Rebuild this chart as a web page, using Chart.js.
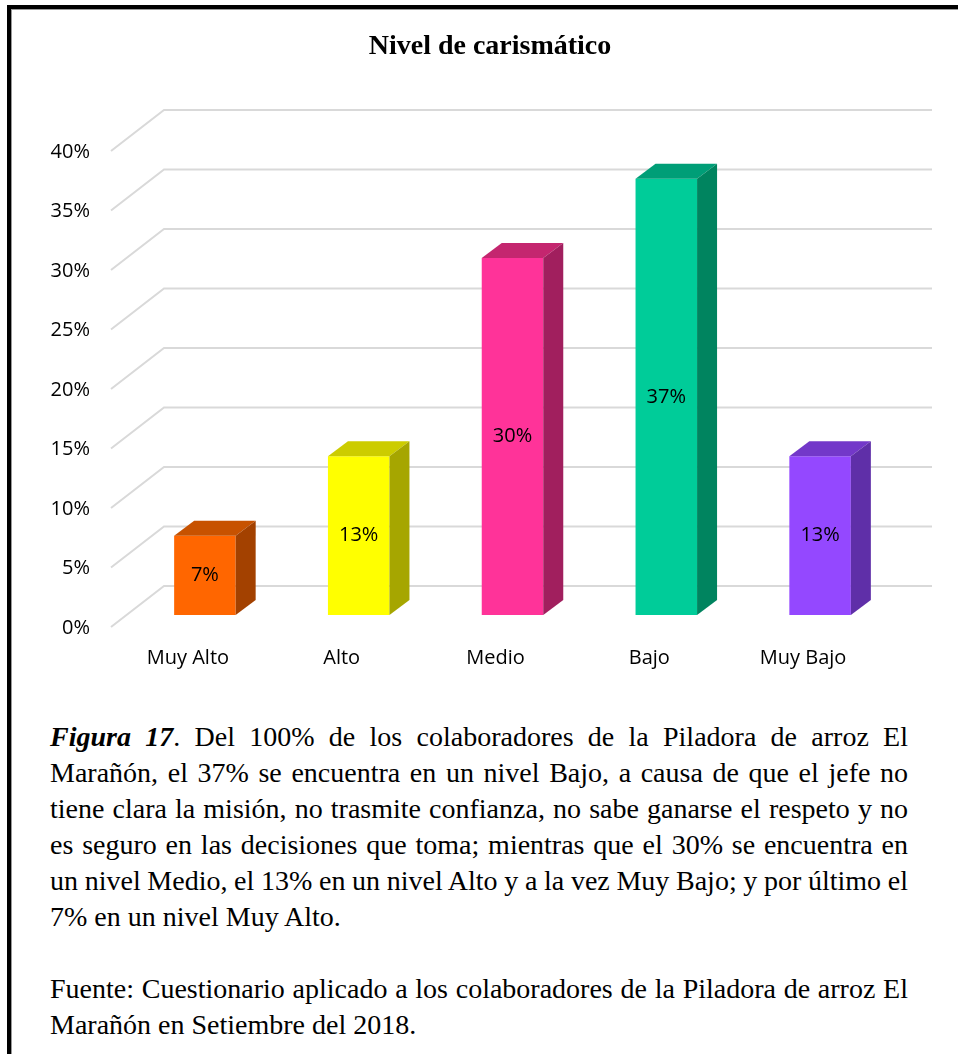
<!DOCTYPE html>
<html>
<head>
<meta charset="utf-8">
<script src="https://cdn.jsdelivr.net/npm/chart.js@4.4.0/dist/chart.umd.min.js"></script>
<style>
  html, body { margin: 0; padding: 0; background: #fff; }
  #page { position: relative; width: 958px; height: 1054px; overflow: hidden; }
  #frame { position: absolute; left: 7px; top: 5px; width: 1000px; height: 1100px;
           border-left: 4px solid #000; border-top: 4px solid #000; }
  #frame-in { position: absolute; left: 0; top: 0; right: 0; bottom: 0;
              border-left: 1px solid #999; border-top: 1px solid #999; }
  #chart { position: absolute; left: 0; top: 0; }
  #title { position: absolute; left: 0; top: 27px; width: 980px; text-align: center;
           font-family: "Liberation Serif", "Times New Roman", serif; font-size: 28px;
           font-weight: bold; line-height: 36px; color: #000; }
  #caption { position: absolute; left: 50px; top: 719px; width: 858px;
             font-family: "Liberation Serif", "Times New Roman", serif; font-size: 28px;
             line-height: 36px; color: #000; }
  #caption .j { text-align: justify; text-align-last: justify; word-spacing: -3px; }
  #caption .l { text-align: left; }
</style>
</head>
<body>
<div id="page">
  <div id="frame"><div id="frame-in"></div></div>
  <canvas id="chart" width="958" height="690"></canvas>
  <div id="title">Nivel de carismático</div>
  <div id="caption">
    <div class="j"><b><i>Figura 17</i></b>. Del 100% de los colaboradores de la Piladora de arroz El</div>
    <div class="j">Marañón, el 37% se encuentra en un nivel Bajo, a causa de que el jefe no</div>
    <div class="j">tiene clara la misión, no trasmite confianza, no sabe ganarse el respeto y no</div>
    <div class="j">es seguro en las decisiones que toma; mientras que el 30% se encuentra en</div>
    <div class="j">un nivel Medio, el 13% en un nivel Alto y a la vez Muy Bajo; y por último el</div>
    <div class="l">7% en un nivel Muy Alto.</div>
    <div class="l">&nbsp;</div>
    <div class="j">Fuente: Cuestionario aplicado a los colaboradores de la Piladora de arroz El</div>
    <div class="l">Marañón en Setiembre del 2018.</div>
  </div>
</div>
<script>
const categories = ["Muy Alto", "Alto", "Medio", "Bajo", "Muy Bajo"];
const values = [6.67, 13.33, 30, 36.67, 13.33];
const frontColors = ["#FF6600", "#FFFF00", "#FF3399", "#00CC99", "#9448FF"];
const topColors = ["#C75200", "#CCCC00", "#C4266F", "#009E77", "#7338C9"];
const sideColors = ["#A34100", "#A6A600", "#A11F5E", "#00845F", "#5F2FA8"];
const yTicks = [0, 5, 10, 15, 20, 25, 30, 35, 40];

// depth of the bars and of the back wall
const DX = 20, DY = -15;

const wall3d = {
  id: "wall3d",
  beforeDatasetsDraw(chart) {
    const { ctx, chartArea, scales } = chart;
    const y = scales.y;
    ctx.save();
    ctx.strokeStyle = "#d9d9d9";
    ctx.lineWidth = 2;
    yTicks.forEach(v => {
      const py = y.getPixelForValue(v);
      ctx.beginPath();
      ctx.moveTo(chartArea.left - 17, py + 12);
      ctx.lineTo(chartArea.left + 36, py - 29);
      ctx.lineTo(chartArea.right + 35, py - 29);
      ctx.stroke();
    });
    ctx.restore();
  },
  afterDatasetsDraw(chart) {
    const { ctx } = chart;
    const meta = chart.getDatasetMeta(0);
    ctx.save();
    meta.data.forEach((bar, i) => {
      const l = bar.x - bar.width / 2, r = bar.x + bar.width / 2;
      const t = bar.y, b = bar.base;
      // top face
      ctx.fillStyle = topColors[i];
      ctx.beginPath();
      ctx.moveTo(l, t);
      ctx.lineTo(l + DX, t + DY);
      ctx.lineTo(r + DX, t + DY);
      ctx.lineTo(r, t);
      ctx.closePath();
      ctx.fill();
      // side face
      ctx.fillStyle = sideColors[i];
      ctx.beginPath();
      ctx.moveTo(r, t);
      ctx.lineTo(r + DX, t + DY);
      ctx.lineTo(r + DX, b + DY);
      ctx.lineTo(r, b);
      ctx.closePath();
      ctx.fill();
      // value label
      ctx.fillStyle = "#000";
      ctx.font = "20px 'Open Sans'";
      ctx.textAlign = "center";
      ctx.textBaseline = "middle";
      ctx.fillText(Math.round(values[i]) + "%", bar.x, (t + b) / 2);
    });
    ctx.restore();
  }
};

new Chart(document.getElementById("chart"), {
  type: "bar",
  data: {
    labels: categories,
    datasets: [{
      data: values,
      backgroundColor: frontColors,
      borderWidth: 0,
      categoryPercentage: 1,
      barPercentage: 0.40
    }]
  },
  options: {
    responsive: false,
    animation: false,
    layout: { padding: { left: 0, right: 61, top: 139, bottom: 0 } },
    plugins: {
      legend: { display: false },
      tooltip: { enabled: false },
      title: { display: false }
    },
    scales: {
      x: {
        grid: { display: false, drawTicks: false },
        border: { display: false },
        ticks: {
          color: "#000",
          font: { family: "'Open Sans'", size: 20 },
          labelOffset: -17,
          padding: 31,
          maxRotation: 0
        },
        afterFit: s => { s.height = 75; }
      },
      y: {
        min: 0,
        max: 40,
        grid: { display: false, drawTicks: false },
        border: { display: false },
        ticks: {
          stepSize: 5,
          color: "#000",
          font: { family: "'Open Sans'", size: 20 },
          padding: 38,
          labelOffset: 13,
          callback: v => v + "%"
        },
        afterFit: s => { s.width = 128; }
      }
    }
  },
  plugins: [wall3d]
});
</script>
</body>
</html>
